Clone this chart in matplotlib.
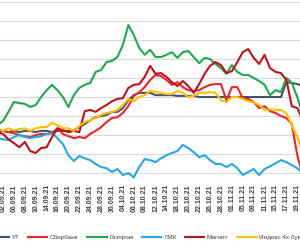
import matplotlib
matplotlib.use("Agg")
import matplotlib.pyplot as plt

# trading days (the first and the last ones are cut off by the picture edges)
dates = ["01.09.21", "02.09.21", "03.09.21", "06.09.21", "07.09.21", "08.09.21", "09.09.21",
         "10.09.21", "13.09.21", "14.09.21", "15.09.21", "16.09.21", "17.09.21", "20.09.21",
         "21.09.21", "22.09.21", "23.09.21", "24.09.21", "27.09.21", "28.09.21", "29.09.21",
         "30.09.21", "01.10.21", "04.10.21", "05.10.21", "06.10.21", "07.10.21", "08.10.21",
         "11.10.21", "12.10.21", "13.10.21", "14.10.21", "15.10.21", "18.10.21", "19.10.21",
         "20.10.21", "21.10.21", "22.10.21", "25.10.21", "26.10.21", "27.10.21", "28.10.21",
         "29.10.21", "01.11.21", "03.11.21", "05.11.21", "08.11.21", "09.11.21", "10.11.21",
         "11.11.21", "12.11.21", "15.11.21", "16.11.21", "17.11.21", "18.11.21", "19.11.21",
         "22.11.21"]

ut = [101.1, 101.1, 100.8, 101.1, 100.8, 101.1, 101.1, 100.8, 101.1, 101.1, 100.8, 101.1,
      101.1, 101.1, 101.3, 102.1, 102.9, 103.9, 104.7, 105.0, 105.3, 106.1, 106.1, 107.1,
      109.2, 110.5, 111.1, 111.1, 111.1, 110.5, 110.5, 110.5, 110.5, 110.3, 110.3, 110.3,
      110.3, 110.0, 110.0, 110.0, 110.0, 110.0, 110.0, 110.0, 110.0, 110.0, 110.0, 110.0,
      110.0, 110.0, 110.0, 110.0, 110.0, 113.9, 113.7, 113.4, 112.9]
sber = [101.3, 101.1, 100.8, 100.5, 100.0, 99.7, 99.5, 100.0, 100.3, 100.3, 100.5, 101.8,
        100.3, 99.7, 99.2, 99.5, 99.2, 100.3, 101.1, 102.1, 103.4, 104.5, 104.7, 105.8,
        107.6, 110.3, 111.3, 112.6, 114.5, 115.8, 115.5, 114.5, 113.2, 113.9, 112.6, 111.8,
        111.6, 111.8, 112.6, 113.2, 113.4, 113.4, 109.2, 112.6, 112.6, 109.7, 109.5, 108.7,
        107.1, 107.6, 106.3, 105.8, 105.0, 104.5, 102.9, 94.7, 89.5]
gazprom = [102.6, 103.7, 106.1, 108.7, 108.4, 108.2, 107.4, 107.9, 110.0, 111.8, 113.2, 111.8,
           110.0, 107.4, 110.5, 112.4, 113.2, 113.7, 116.6, 117.1, 119.2, 119.5, 120.5, 123.7,
           128.9, 126.3, 122.9, 121.1, 122.4, 120.5, 120.5, 121.1, 121.8, 120.3, 121.8, 122.1,
           120.5, 118.9, 120.3, 120.0, 118.7, 117.6, 116.1, 118.4, 116.6, 115.8, 115.8, 115.0,
           114.2, 113.2, 110.5, 111.8, 111.3, 115.0, 113.7, 110.0, 105.3]
gmk = [99.2, 98.9, 98.7, 99.5, 100.0, 99.5, 99.2, 99.5, 99.7, 100.3, 100.5, 99.2,
       97.6, 94.7, 93.2, 94.5, 93.9, 93.4, 92.4, 91.6, 91.3, 90.3, 91.1, 89.5,
       90.0, 88.9, 91.6, 93.7, 93.4, 92.9, 93.9, 94.7, 95.3, 95.8, 97.4, 96.6,
       95.5, 94.2, 94.7, 93.4, 92.4, 92.4, 91.6, 92.4, 91.3, 89.5, 90.3, 91.1,
       89.5, 91.1, 91.8, 92.6, 93.4, 92.9, 92.1, 91.3, 90.0]
magnit = [100.8, 100.3, 98.9, 97.9, 96.8, 98.2, 95.8, 95.3, 96.6, 96.8, 99.5, 101.8,
          101.3, 100.8, 101.1, 100.8, 106.3, 106.6, 106.1, 107.1, 107.9, 108.9, 109.5, 109.7,
          112.4, 113.2, 113.4, 115.3, 118.2, 116.1, 116.3, 115.3, 113.9, 112.9, 114.2, 112.9,
          111.1, 113.4, 116.1, 118.2, 119.2, 118.4, 116.3, 116.8, 119.2, 121.8, 122.6, 120.3,
          118.7, 121.1, 117.6, 116.6, 116.3, 114.5, 107.6, 107.1, 103.9]
index4 = [101.8, 101.1, 101.8, 101.3, 101.6, 101.8, 101.1, 101.8, 102.1, 102.1, 103.2, 102.6,
          101.8, 101.8, 101.1, 102.4, 103.4, 103.9, 104.5, 105.3, 105.8, 106.1, 106.6, 107.9,
          109.5, 108.9, 110.0, 110.5, 111.6, 111.3, 111.1, 110.8, 110.8, 111.6, 111.1, 110.0,
          110.3, 111.1, 111.1, 111.3, 111.1, 109.2, 108.7, 110.0, 110.0, 109.5, 108.9, 108.7,
          107.9, 106.6, 106.8, 106.6, 106.6, 105.8, 102.6, 99.5, 95.5]

series = [
    ("УТ", ut, "#44546A"),
    ("Сбербанк", sber, "#E8252B"),
    ("Газпром", gazprom, "#22A64E"),
    ("ГМК", gmk, "#2AA7DF"),
    ("Магнит", magnit, "#B8141B"),
    ("Индекс 4х бумаг", index4, "#FFC000"),
]

plt.rcParams["font.family"] = ["Liberation Sans", "DejaVu Sans"]

fig = plt.figure(figsize=(3, 2.5), dpi=100)
ax = fig.add_axes([0, 0.28, 1, 0.72])

x = list(range(len(dates)))
for name, vals, col in series:
    ax.plot(x, vals, color=col, lw=1.5, label=name)

ax.set_xlim(0.45, 55.5)
ax.set_ylim(88.2, 135.5)
ax.set_yticks(range(90, 136, 5))
ax.yaxis.grid(True, color="#D9D9D9", lw=0.8)
ax.set_axisbelow(True)
ax.tick_params(axis="y", length=0, labelleft=False)

ax.set_xticks(x[1::2])
ax.set_xticklabels(dates[1::2], rotation=90, fontsize=5, fontweight="bold", color="#404040")
ax.tick_params(axis="x", length=0, pad=3)

for s in ax.spines.values():
    s.set_visible(False)

fig.legend(loc="center", bbox_to_anchor=(0.495, 0.05), ncol=6, frameon=False,
           prop={"size": 4.6}, handlelength=3.1, handletextpad=0.4, columnspacing=1.3,
           labelcolor="#404040")

fig.savefig("out.png", dpi=100)
